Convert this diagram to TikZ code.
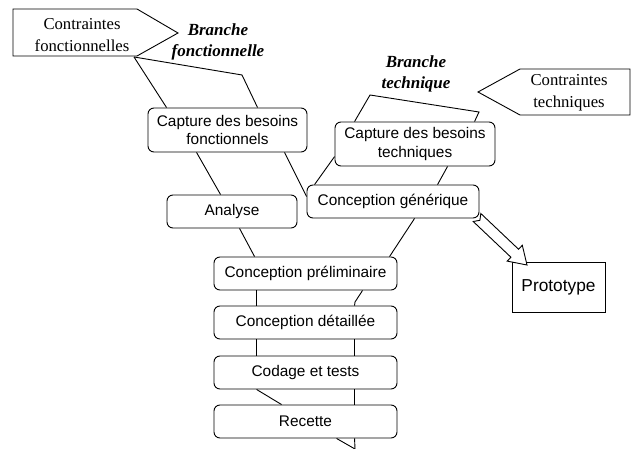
\documentclass[tikz,border=0pt]{standalone}
\usepackage{fontspec}
\setmainfont{Liberation Serif}
\setsansfont{Liberation Sans}
\usetikzlibrary{calc}

\tikzset{
  stage/.style={draw, rounded corners=6pt, line width=0.9pt, inner sep=0pt,
    align=center, font=\sffamily\fontsize{15.4}{18.5}\selectfont},
  stagesmall/.style={stage, minimum height=33pt},
  stagebig/.style={stage, minimum height=44pt},
  plainbox/.style={draw, line width=0.9pt, inner sep=0pt, align=center,
    font=\sffamily\fontsize{17.3}{20}\selectfont},
  pentagon/.style={draw, line width=0.9pt},
  pentatext/.style={align=center, inner sep=0pt,
    font=\rmfamily\fontsize{16.7}{21.5}\selectfont},
  branch/.style={align=center, inner sep=0pt,
    font=\rmfamily\bfseries\itshape\fontsize{17}{21.5}\selectfont},
  link/.style={line width=0.9pt},
  hollowarrow/.style={draw, fill=white, line width=0.9pt, line join=miter},
}

\begin{document}
\begin{tikzpicture}[x=1pt, y=-1pt]
\useasboundingbox (0,0) rectangle (631,449);

% input pentagons
\draw[pentagon] (13,9) -- (137,9) -- (178,33) -- (137,56) -- (13,56) -- cycle;
\node[pentatext] (cfn) at (82,35) {Contraintes\\fonctionnelles};
\draw[pentagon] (478,92) -- (520,69) -- (630,69) -- (630,115) -- (520,115) -- cycle;
\node[pentatext] (ctq) at (569,93) {Contraintes\\techniques};
\coordinate (cfbase) at (134,57);

% branch labels
\node[branch] (bf) at (218,42) {Branche\\fonctionnelle};
\node[branch] (bt) at (416,74) {Branche\\technique};

% process stages
\node[stagebig, minimum width=159pt] (cbf) at (227.5,130) {Capture des besoins\\fonctionnels};
\node[stagebig, minimum width=160pt] (cbt) at (415,144) {Capture des besoins\\techniques};
\node[stagesmall, minimum width=172pt] (cg) at (393,201.5) {Conception générique};
\node[stagesmall, minimum width=130pt] (an) at (232,211.5) {Analyse};
\node[stagesmall, minimum width=183pt] (cp) at (305.5,273.5) {Conception préliminaire};
\node[stagesmall, minimum width=183pt] (cd) at (305.5,322.5) {Conception détaillée};
\node[stagesmall, minimum width=183pt] (ct) at (305.5,372.5) {Codage et tests};
\node[stagesmall, minimum width=183pt] (re) at (305.5,421.5) {Recette};
\node[plainbox, minimum width=93pt, minimum height=50pt] (pr) at (558.5,287) {Prototype};

% functional branch
\draw[link] (cfbase) -- ($(cbf.north west)+(19,0)$);
\draw[link] (cfbase) -- (242,75) -- ($(cbf.north west)+(110,0)$);
\draw[link] ($(cbf.south west)+(49,0)$) -- ($(an.north west)+(54,0)$);
\draw[link] ($(cbf.south west)+(137,0)$) -- ($(cg.north west)+(0,12)$);
\draw[link] ($(an.south west)+(73,0)$) -- ($(cp.north west)+(41,0)$);

% technical branch
\draw[link] ($(cbt.north west)+(20,0)$) -- (370,95) -- (479,112) -- ($(cbt.north west)+(140,0)$);
\draw[link] ($(cbt.north west)+(0,35)$) -- ($(cg.north west)+(8,0)$);
\draw[link] ($(cbt.south west)+(113,0)$) -- ($(cg.north west)+(131,0)$);
\draw[link] ($(cg.south west)+(108,0)$) -- ($(cp.north west)+(176,0)$);

% realisation trunk
\draw[link] ($(cp.south west)+(43,0)$) -- ($(cd.north west)+(43,0)$);
\draw[link] ($(cp.south west)+(149,0)$) -- (355,302) -- ($(cd.north west)+(141,0)$);
\draw[link] ($(cd.south west)+(43,0)$) -- ($(ct.north west)+(43,0)$);
\draw[link] ($(cd.south west)+(141,0)$) -- ($(ct.north west)+(141,0)$);
\draw[link] ($(ct.south west)+(43,0)$) -- ($(re.north west)+(68,0)$);
\draw[link] ($(ct.south west)+(141,0)$) -- ($(re.north west)+(141,0)$);
\coordinate (endv) at (355,449);
\draw[link] ($(re.south west)+(123,0)$) -- (endv);
\draw[link] ($(re.south west)+(141,0)$) -- (endv);

% hollow block arrow towards the prototype
\draw[hollowarrow] (480.8,213.5) -- (518.5,249.2) -- (522.3,245.3) -- (527,265)
  -- (507.1,261.1) -- (510.9,257.2) -- (473.2,221.5) -- (479.9,220.3) -- cycle;
\end{tikzpicture}
\end{document}
